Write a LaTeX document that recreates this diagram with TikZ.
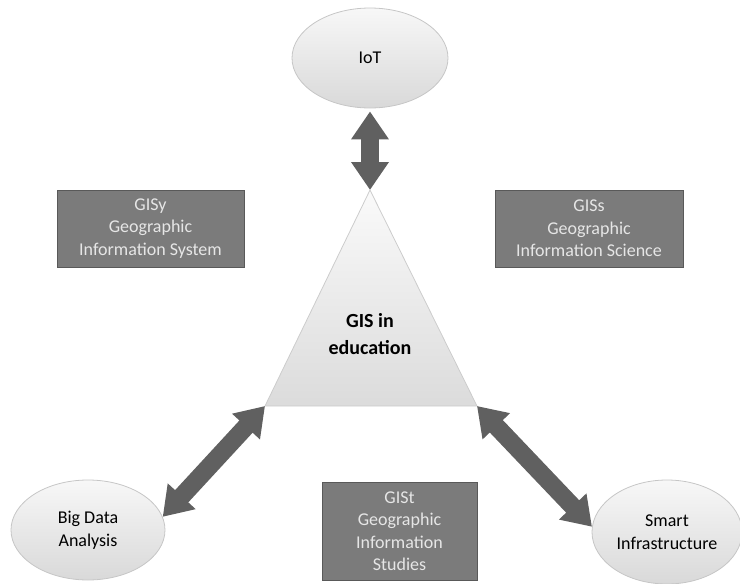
\documentclass[tikz,border=0pt]{standalone}
\usepackage{fontspec}
\setmainfont{Carlito}
\usetikzlibrary{shapes.geometric,arrows.meta}
\definecolor{boxgray}{HTML}{7B7B7B}
\definecolor{boxtext}{HTML}{E6E6E6}
\definecolor{arrowgray}{HTML}{606060}
\tikzset{
  ovalnode/.style={ellipse, draw=gray!45, line width=0.8pt, top color=gray!6, bottom color=gray!30,
    inner sep=0pt, align=center, font=\fontsize{18}{23}\selectfont},
  infobox/.style={rectangle, draw=gray!70!black, line width=0.6pt, fill=boxgray, text=boxtext,
    inner sep=0pt, align=center, font=\fontsize{18}{22.5}\selectfont},
  bigarrow/.style={draw=arrowgray, line width=18pt,
    {Triangle[width=36pt,length=28pt]}-{Triangle[width=36pt,length=28pt]}}
}
\begin{document}
\begin{tikzpicture}[x=1pt,y=-1pt]
\useasboundingbox (0,0) rectangle (740,584);
% triangle
\coordinate (apex) at (370,190);
\coordinate (bl) at (265,406);
\coordinate (br) at (477,406);
\path[draw=gray!40, line width=0.8pt, top color=gray!4, bottom color=gray!28] (apex) -- (br) -- (bl) -- cycle;
\node[align=center, font=\bfseries\fontsize{20}{27}\selectfont] (gis) at (370,334) {GIS in\\education};
% ellipses
\node[ovalnode, minimum width=156pt, minimum height=100pt] (iot) at (370,58) {IoT};
\node[ovalnode, minimum width=154pt, minimum height=100pt] (bd) at (88,530) {Big Data\\Analysis};
\node[ovalnode, minimum width=150pt, minimum height=104pt] (si) at (667,532) {Smart\\Infrastructure};
% boxes
\node[infobox, minimum width=187pt, minimum height=77pt] (gisy) at (150.5,228.5) {GISy\\Geographic\\Information System};
\node[infobox, minimum width=188pt, minimum height=77pt] (giss) at (589,228.5) {GISs\\Geographic\\Information Science};
\node[infobox, minimum width=155pt, minimum height=98pt] (gist) at (399.5,531) {GISt\\Geographic\\Information\\Studies};
% arrows
\draw[bigarrow] ([yshift=-3pt]iot.south) -- (apex);
\draw[bigarrow] (bl) -- (bd.10);
\draw[bigarrow] (br) -- (si.176);
\end{tikzpicture}
\end{document}
